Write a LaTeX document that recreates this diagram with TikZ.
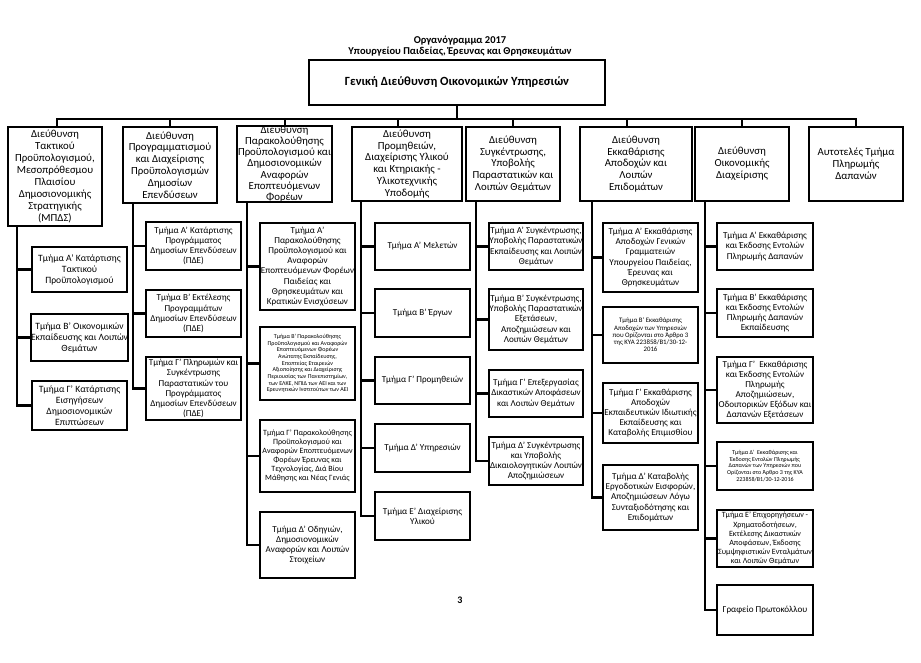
\documentclass[tikz,border=0pt]{standalone}
\usepackage{fontspec}
\setmainfont{Carlito}
\newcommand\fD{\fontsize{10.8}{11.9}\selectfont}
\newcommand\fDc{\fontsize{10.8}{11.1}\selectfont}
\newcommand\fS{\fontsize{9.6}{11}\selectfont}
\newcommand\fSb{\fontsize{9.1}{10.1}\selectfont}
\newcommand\fSm{\fontsize{8}{9.1}\selectfont}
\newcommand\fT{\fontsize{6}{6.7}\selectfont}
\newcommand\fU{\fontsize{6.8}{7.3}\selectfont}
\newcommand\obox[7]{%
 \pgfmathsetmacro\bw{#4-#2}\pgfmathsetmacro\bh{#5-#3}%
 \pgfmathsetmacro\cx{(#2+#4)/2}\pgfmathsetmacro\cy{(#3+#5)/2}%
 \node[box,font=#6,minimum width=\bw pt,minimum height=\bh pt] (#1) at (\cx,\cy) {#7};}
\tikzset{
 box/.style={draw,line width=2.4pt,align=center,inner sep=0pt},
 ln/.style={line width=2.4pt,line join=miter},
 ttl/.style={font=\bfseries\fontsize{10.5}{12}\selectfont,inner sep=0pt}
}
\begin{document}
\begin{tikzpicture}[x=1pt,y=-1pt]
\useasboundingbox[fill=white] (0,0) rectangle (921,663);
% titles
\node[ttl] (t1) at (460,41) {Οργανόγραμμα 2017};
\node[ttl] (t2) at (460,52) {Υπουργείου Παιδείας, Έρευνας και Θρησκευμάτων};
\obox{top}{309}{60}{605}{105}{\bfseries\fontsize{12.5}{14}\selectfont}{Γενική Διεύθυνση Οικονομικών Υπηρεσιών}
% directorates
\obox{d1}{8}{127}{102}{226}{\fD}{Διεύθυνση\\Τακτικού\\Προϋπολογισμού,\\Μεσοπρόθεσμου\\Πλαισίου\\Δημοσιονομικής\\Στρατηγικής\\(ΜΠΔΣ)}
\obox{d2}{123}{127}{217}{203}{\fD}{Διεύθυνση\\Προγραμματισμού\\και Διαχείρισης\\Προϋπολογισμών\\Δημοσίων\\Επενδύσεων}
\obox{d3}{237}{127}{332}{201}{\fDc}{Διεύθυνση\\Παρακολούθησης\\Προϋπολογισμού και\\Δημοσιονομικών\\Αναφορών\\Εποπτευόμενων\\Φορέων}
\obox{d4}{352}{127}{462}{201}{\fD}{Διεύθυνση\\Προμηθειών,\\Διαχείρισης Υλικού\\και Κτηριακής -\\Υλικοτεχνικής\\Υποδομής}
\obox{d5}{466}{127}{560}{201}{\fD}{Διεύθυνση\\Συγκέντρωσης,\\Υποβολής\\Παραστατικών και\\Λοιπών Θεμάτων}
\obox{d6}{580}{127}{692}{201}{\fD}{Διεύθυνση\\Εκκαθάρισης\\Αποδοχών και\\Λοιπών\\Επιδομάτων}
\obox{d7}{695}{127}{789}{201}{\fD}{Διεύθυνση\\Οικονομικής\\Διαχείρισης}
\obox{d8}{809}{127}{903}{201}{\fD}{Αυτοτελές Τμήμα\\Πληρωμής\\Δαπανών}
% column 1
\obox{s1a}{32}{247}{127}{292}{\fS}{Τμήμα Α’ Κατάρτισης\\Τακτικού\\Προϋπολογισμού}
\obox{s1b}{32}{314}{127}{361}{\fS}{Τμήμα Β’ Οικονομικών\\Εκπαίδευσης και Λοιπών\\Θεμάτων}
\obox{s1c}{32}{381}{127}{430}{\fS}{Τμήμα Γ’ Κατάρτισης\\Εισηγήσεων\\Δημοσιονομικών\\Επιπτώσεων}
% column 2
\obox{s2a}{146}{222}{241}{270}{\fSb}{Τμήμα Α’ Κατάρτισης\\Προγράμματος\\Δημοσίων Επενδύσεων\\(ΠΔΕ)}
\obox{s2b}{146}{290}{241}{337}{\fSb}{Τμήμα Β’ Εκτέλεσης\\Προγραμμάτων\\Δημοσίων Επενδύσεων\\(ΠΔΕ)}
\obox{s2c}{146}{357}{241}{420}{\fSb}{Τμήμα Γ’ Πληρωμών και\\Συγκέντρωσης\\Παραστατικών του\\Προγράμματος\\Δημοσίων Επενδύσεων\\(ΠΔΕ)}
% column 3
\obox{s3a}{260}{223}{355}{310}{\fSb}{Τμήμα Α’\\Παρακολούθησης\\Προϋπολογισμού και\\Αναφορών\\Εποπτευόμενων Φορέων\\Παιδείας και\\Θρησκευμάτων και\\Κρατικών Ενισχύσεων}
\obox{s3b}{260}{327}{355}{400}{\fT}{Τμήμα Β’ Παρακολούθησης\\Προϋπολογισμού και Αναφορών\\Εποπτευόμενων Φορέων\\Ανώτατης Εκπαίδευσης,\\Εποπτείας Εταιρειών\\Αξιοποίησης και Διαχείρισης\\Περιουσίας των Πανεπιστημίων,\\των ΕΛΚΕ, ΝΠΙΔ των ΑΕΙ και των\\Ερευνητικών Ινστιτούτων των ΑΕΙ}
\obox{s3c}{260}{420}{355}{492}{\fSm}{Τμήμα Γ’ Παρακολούθησης\\Προϋπολογισμού και\\Αναφορών Εποπτευόμενων\\Φορέων Έρευνας και\\Τεχνολογίας, Διά Βίου\\Μάθησης και Νέας Γενιάς}
\obox{s3d}{260}{512}{355}{578}{\fSb}{Τμήμα Δ’ Οδηγιών,\\Δημοσιονομικών\\Αναφορών και Λοιπών\\Στοιχείων}
% column 4
\obox{s4a}{375}{223}{470}{270}{\fSb}{Τμήμα Α’ Μελετών}
\obox{s4b}{375}{289}{470}{337}{\fSb}{Τμήμα Β’ Έργων}
\obox{s4c}{375}{357}{470}{404}{\fSb}{Τμήμα Γ’ Προμηθειών}
\obox{s4d}{375}{424}{470}{472}{\fSb}{Τμήμα Δ’ Υπηρεσιών}
\obox{s4e}{375}{492}{470}{540}{\fSb}{Τμήμα Ε’ Διαχείρισης\\Υλικού}
% column 5
\obox{s5a}{489}{223}{583}{270}{\fSb}{Τμήμα Α’ Συγκέντρωσης,\\Υποβολής Παραστατικών\\Εκπαίδευσης και Λοιπών\\Θεμάτων}
\obox{s5b}{489}{289}{583}{350}{\fSb}{Τμήμα Β’ Συγκέντρωσης,\\Υποβολής Παραστατικών\\Εξετάσεων,\\Αποζημιώσεων και\\Λοιπών Θεμάτων}
\obox{s5c}{489}{370}{583}{417}{\fSb}{Τμήμα Γ’ Επεξεργασίας\\Δικαστικών Αποφάσεων\\και Λοιπών Θεμάτων}
\obox{s5d}{489}{437}{583}{485}{\fSb}{Τμήμα Δ’ Συγκέντρωσης\\και Υποβολής\\Δικαιολογητικών Λοιπών\\Αποζημιώσεων}
% column 6
\obox{s6a}{603}{223}{698}{292}{\fSb}{Τμήμα Α’ Εκκαθάρισης\\Αποδοχών Γενικών\\Γραμματειών\\Υπουργείου Παιδείας,\\Έρευνας και\\Θρησκευμάτων}
\obox{s6b}{603}{307}{698}{363}{\fU}{Τμήμα Β’ Εκκαθάρισης\\Αποδοχών των Υπηρεσιών\\που Ορίζονται στο Άρθρο 3\\της ΚΥΑ 223858/Β1/30-12-\\2016}
\obox{s6c}{603}{383}{698}{443}{\fSb}{Τμήμα Γ’ Εκκαθάρισης\\Αποδοχών\\Εκπαιδευτικών Ιδιωτικής\\Εκπαίδευσης και\\Καταβολής Επιμισθίου}
\obox{s6d}{603}{465}{698}{530}{\fSb}{Τμήμα Δ’ Καταβολής\\Εργοδοτικών Εισφορών,\\Αποζημιώσεων Λόγω\\Συνταξιοδότησης και\\Επιδομάτων}
% column 7
\obox{s7a}{717}{223}{813}{270}{\fSb}{Τμήμα Α’ Εκκαθάρισης\\και Έκδοσης Εντολών\\Πληρωμής Δαπανών}
\obox{s7b}{717}{289}{813}{337}{\fSb}{Τμήμα Β’ Εκκαθάρισης\\και Έκδοσης Εντολών\\Πληρωμής Δαπανών\\Εκπαίδευσης}
\obox{s7c}{717}{357}{813}{423}{\fSb}{Τμήμα Γ’ \ Εκκαθάρισης\\και Έκδοσης Εντολών\\Πληρωμής\\Αποζημιώσεων,\\Οδοιπορικών Εξόδων και\\Δαπανών Εξετάσεων}
\obox{s7d}{717}{442}{813}{490}{\fT}{Τμήμα Δ’ \ Εκκαθάρισης και\\Έκδοσης Εντολών Πληρωμής\\Δαπανών των Υπηρεσιών που\\Ορίζονται στο Άρθρο 3 της ΚΥΑ\\223858/Β1/30-12-2016}
\obox{s7e}{717}{510}{813}{567}{\fSm}{Τμήμα Ε’ Επιχορηγήσεων -\\Χρηματοδοτήσεων,\\Εκτέλεσης Δικαστικών\\Αποφάσεων, Έκδοσης\\Συμψηφιστικών Ενταλμάτων\\και Λοιπών Θεμάτων}
\obox{s7f}{717}{585}{813}{635}{\fSb}{Γραφείο Πρωτοκόλλου}
% page number
\node[font=\bfseries\fontsize{10}{12}\selectfont] (pg) at (460,600) {3};
% bus
\coordinate (b1) at (57,119);
\coordinate (b2) at (170,119);
\coordinate (b3) at (285,119);
\coordinate (b4) at (398,119);
\coordinate (b5) at (513,119);
\coordinate (b6) at (627,119);
\coordinate (b7) at (742,119);
\coordinate (b8) at (856,119);
\draw[ln] (top.south) -- (top.south |- b1);
\draw[ln] (b1 |- d1.north) -- (b1) -- (b8) -- (b8 |- d8.north);
\foreach \i in {2,...,7}{\draw[ln] (b\i) -- (b\i |- d\i.north);}
% column spines
\coordinate (v1) at (17,0);
\coordinate (v2) at (133,0);
\coordinate (v3) at (247,0);
\coordinate (v4) at (361,0);
\coordinate (v5) at (476,0);
\coordinate (v6) at (592,0);
\coordinate (v7) at (705,0);
\draw[ln] (v1 |- d1.south) -- (v1 |- s1c.west) -- (s1c.west);
\draw[ln] (v2 |- d2.south) -- (v2 |- s2c.west) -- (s2c.west);
\draw[ln] (v3 |- d3.south) -- (v3 |- s3d.west) -- (s3d.west);
\draw[ln] (v4 |- d4.south) -- (v4 |- s4e.west) -- (s4e.west);
\draw[ln] (v5 |- d5.south) -- (v5 |- s5d.west) -- (s5d.west);
\draw[ln] (v6 |- d6.south) -- (v6 |- s6d.west) -- (s6d.west);
\draw[ln] (v7 |- d7.south) -- (v7 |- s7f.west) -- (s7f.west);
\foreach \s in {s1a,s1b}{\draw[ln] (v1 |- \s.west) -- (\s.west);}
\foreach \s in {s2a,s2b}{\draw[ln] (v2 |- \s.west) -- (\s.west);}
\foreach \s in {s3a,s3b,s3c}{\draw[ln] (v3 |- \s.west) -- (\s.west);}
\foreach \s in {s4a,s4b,s4c,s4d}{\draw[ln] (v4 |- \s.west) -- (\s.west);}
\foreach \s in {s5a,s5b,s5c}{\draw[ln] (v5 |- \s.west) -- (\s.west);}
\foreach \s in {s6a,s6b,s6c}{\draw[ln] (v6 |- \s.west) -- (\s.west);}
\foreach \s in {s7a,s7b,s7c,s7d,s7e}{\draw[ln] (v7 |- \s.west) -- (\s.west);}
\end{tikzpicture}
\end{document}
